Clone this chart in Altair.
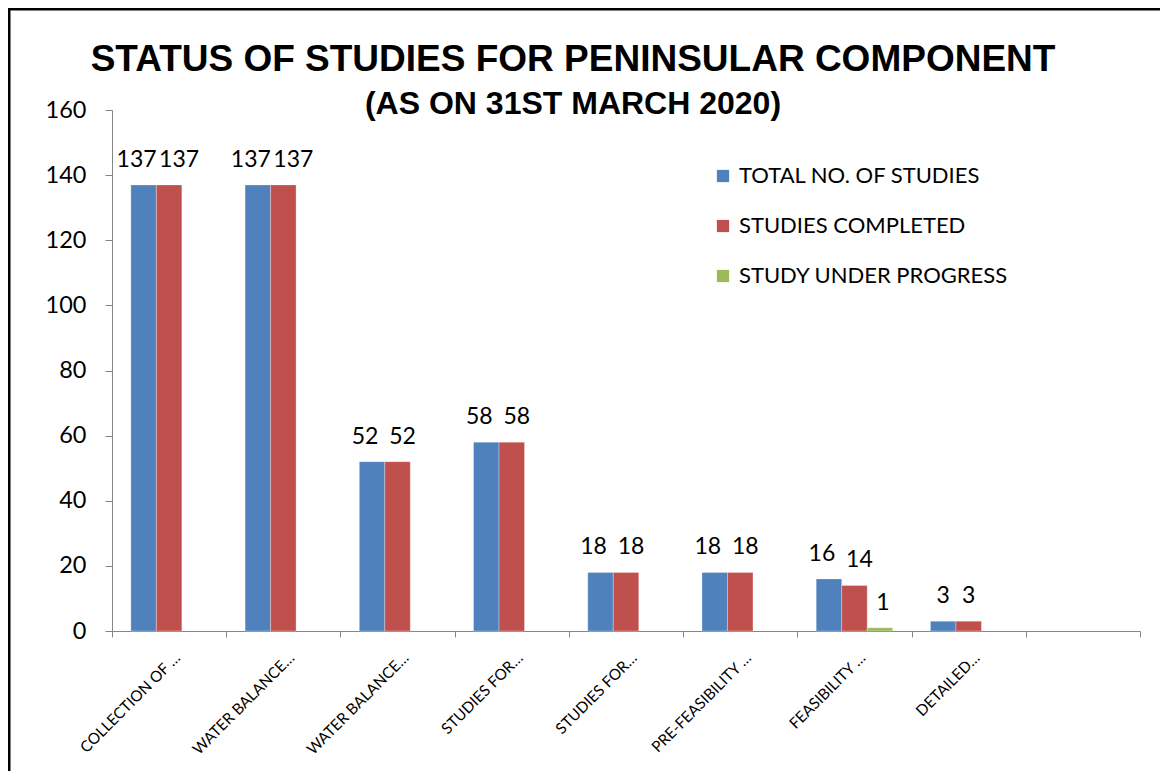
import json
import altair as alt
import pandas as pd

# ---- data ----
category_labels = ["COLLECTION OF …", "WATER BALANCE…", "WATER BALANCE…", "STUDIES FOR…",
                   "STUDIES FOR…", "PRE-FEASIBILITY …", "FEASIBILITY …", "DETAILED…", ""]
series_names = ["TOTAL NO. OF STUDIES", "STUDIES COMPLETED", "STUDY UNDER PROGRESS"]
total_studies = [137, 137, 52, 58, 18, 18, 16, 3, None]
studies_completed = [137, 137, 52, 58, 18, 18, 14, 3, None]
under_progress = [None, None, None, None, None, None, 1, None, None]
series_colors = ["#4F81BD", "#C0504D", "#9BBB59"]
y_ticks = [0, 20, 40, 60, 80, 100, 120, 140, 160]
title_text = "STATUS OF STUDIES FOR PENINSULAR COMPONENT"
subtitle_text = "(AS ON 31ST MARCH 2020)"

keys = [str(i) for i in range(len(category_labels))]
rows = []
for s, vals in zip(series_names, [total_studies, studies_completed, under_progress]):
    for k, v in zip(keys, vals):
        if v is not None:
            rows.append({"cat": k, "series": s, "value": v})
df = pd.DataFrame(rows)

label_expr = json.dumps(category_labels, ensure_ascii=False) + "[toNumber(datum.value)]"

W, H = 1028, 521

x_enc = alt.X("cat:N", scale=alt.Scale(domain=keys, paddingInner=0, paddingOuter=0),
              axis=alt.Axis(title=None, labelExpr=label_expr, labelAngle=-45, labelAlign="right",
                            labelBaseline="top", labelFont="Lato", labelFontSize=15.3,
                            labelColor="black", labelPadding=13, labelOffset=3, tickBand="extent",
                            tickSize=6, tickColor="#868686", domainColor="#868686",
                            labelOverlap=False))
xo_enc = alt.XOffset("series:N", sort=series_names,
                     scale=alt.Scale(domain=series_names, paddingInner=0, paddingOuter=0.74))
y_enc = alt.Y("value:Q", scale=alt.Scale(domain=[0, 160], nice=False),
              axis=alt.Axis(title=None, values=y_ticks, grid=False, labelFont="Lato",
                            labelFontSize=23.5, labelColor="black", tickSize=7, labelPadding=19,
                            tickColor="#868686", domainColor="#868686"))
color_enc = alt.Color("series:N", sort=series_names,
                      scale=alt.Scale(domain=series_names, range=series_colors),
                      legend=alt.Legend(title=None, orient="none", legendX=600, legendY=55,
                                        symbolType="square", symbolSize=150, symbolStrokeWidth=0,
                                        labelFont="Lato", labelFontSize=22, labelColor="black",
                                        rowPadding=28, labelOffset=5, labelLimit=400))

base = alt.Chart(df)
bars = base.mark_bar(stroke="white", strokeWidth=0.6, strokeOpacity=0.5).encode(
    x=x_enc, xOffset=xo_enc, y=y_enc, color=color_enc)


def labels(flt, dx, dy=-13):
    return base.transform_filter(flt).mark_text(
        font="Lato", fontSize=23, color="black", baseline="bottom", dx=dx, dy=dy
    ).encode(x=alt.X("cat:N"), xOffset=alt.XOffset("series:N"), y="value:Q", text="value:Q")


is_total = alt.datum.series == series_names[0]
is_done = alt.datum.series == series_names[1]
is_prog = alt.datum.series == series_names[2]
wide = alt.datum.value >= 100
mid = (alt.datum.value >= 10) & (alt.datum.value < 100)
narrow = alt.datum.value < 10

# labels that would collide are pushed apart, wider numbers further
text_layers = [
    labels(is_total & wide, -7), labels(is_done & wide, 10),
    labels(is_total & mid, -7), labels(is_done & mid, 5),
    labels(is_total & narrow, 0), labels(is_done & narrow, 0),
    labels(is_prog, 3),
]

border = alt.Chart(alt.Data(values=[{}])).mark_rect(
    filled=False, stroke="black", strokeWidth=2.5
).encode(x=alt.value(-102.75), x2=alt.value(1200), y=alt.value(-100.75), y2=alt.value(800))

title_mark = alt.Chart(alt.Data(values=[{}])).mark_text(
    font="Liberation Sans", fontSize=37, fontWeight="bold", color="black",
    align="center", baseline="alphabetic"
).encode(x=alt.value(461), y=alt.value(-39), text=alt.value(title_text))

subtitle_mark = alt.Chart(alt.Data(values=[{}])).mark_text(
    font="Liberation Sans", fontSize=32, fontWeight="bold", color="black",
    align="center", baseline="alphabetic"
).encode(x=alt.value(461), y=alt.value(4), text=alt.value(subtitle_text))

chart = alt.layer(bars, *text_layers, border, title_mark, subtitle_mark).properties(
    width=W, height=H,
    autosize=alt.AutoSizeParams(type="none"),
    padding={"left": 104, "top": 102, "right": 20, "bottom": 140},
).configure_view(stroke=None)

chart.save("out.html", embed_options={"renderer": "svg", "actions": False})
